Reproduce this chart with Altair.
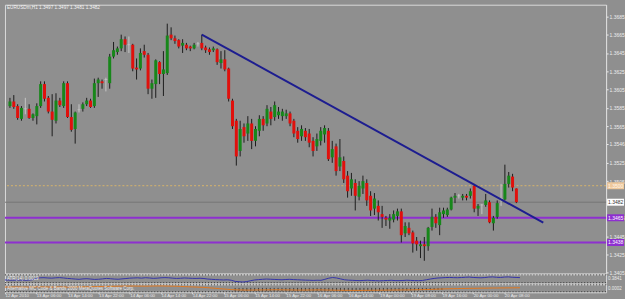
import altair as alt
import pandas as pd

TITLE = "EURUSDm,H1  1.3497  1.3497  1.3481  1.3482"

TIME_LABELS = ["12 Apr 2010", "13 Apr 06:00", "13 Apr 14:00", "13 Apr 22:00", "14 Apr 06:00",
               "14 Apr 14:00", "14 Apr 22:00", "15 Apr 06:00", "15 Apr 14:00", "15 Apr 22:00",
               "16 Apr 06:00", "16 Apr 14:00", "19 Apr 00:00", "19 Apr 08:00", "19 Apr 16:00",
               "20 Apr 00:00", "20 Apr 08:00"]
TIME_BARS = [0, 8, 16, 24, 32, 40, 48, 56, 64, 72, 80, 88, 96, 104, 112, 120, 128]

# 1.3485 sits under the white bid box and is left out of the scale labels
PRICE_TICKS = [1.3685, 1.3665, 1.3645, 1.3625, 1.3605, 1.3585, 1.3565, 1.3546, 1.3525,
               1.3505, 1.3465, 1.3445, 1.3425, 1.3405]

OPEN = [1.3587, 1.3592, 1.3587, 1.3573, 1.3584, 1.3584, 1.3574, 1.3576, 1.3587, 1.3611,
        1.3596, 1.3581, 1.3571, 1.3593, 1.3587, 1.3612, 1.3575, 1.3562, 1.3583, 1.3584,
        1.3589, 1.3593, 1.3587, 1.3612, 1.3614, 1.3616, 1.3612, 1.3641, 1.3646, 1.3650,
        1.3660, 1.3654, 1.3654, 1.3629, 1.3628, 1.3647, 1.3643, 1.3606, 1.3611, 1.3635,
        1.3622, 1.3623, 1.3665, 1.3661, 1.3659, 1.3653, 1.3654, 1.3652, 1.3650, 1.3655,
        1.3656, 1.3651, 1.3649, 1.3648, 1.3649, 1.3634, 1.3638, 1.3628, 1.3593, 1.3571,
        1.3538, 1.3564, 1.3557, 1.3568, 1.3549, 1.3560, 1.3573, 1.3568, 1.3581, 1.3575,
        1.3577, 1.3576, 1.3576, 1.3579, 1.3571, 1.3560, 1.3554, 1.3560, 1.3557, 1.3549,
        1.3543, 1.3549, 1.3556, 1.3560, 1.3531, 1.3543, 1.3521, 1.3527, 1.3511, 1.3497,
        1.3503, 1.3488, 1.3497, 1.3503, 1.3489, 1.3475, 1.3478, 1.3469, 1.3465, 1.3462,
        1.3463, 1.3467, 1.3472, 1.3448, 1.3454, 1.3449, 1.3440, 1.3434, 1.3436, 1.3434,
        1.3455, 1.3466, 1.3457, 1.3469, 1.3468, 1.3474, 1.3487, 1.3489, 1.3487, 1.3489,
        1.3489, 1.3500, 1.3475, 1.3479, 1.3479, 1.3482, 1.3459, 1.3466, 1.3486, 1.3485,
        1.3502, 1.3510, 1.3497]
HIGH = [1.3596, 1.3599, 1.3589, 1.3587, 1.3596, 1.3589, 1.3579, 1.3590, 1.3614, 1.3614,
        1.3598, 1.3600, 1.3601, 1.3596, 1.3614, 1.3614, 1.3589, 1.3581, 1.3589, 1.3591,
        1.3596, 1.3595, 1.3617, 1.3618, 1.3616, 1.3618, 1.3644, 1.3657, 1.3652, 1.3665,
        1.3663, 1.3663, 1.3655, 1.3639, 1.3650, 1.3654, 1.3645, 1.3616, 1.3638, 1.3636,
        1.3647, 1.3677, 1.3673, 1.3664, 1.3660, 1.3660, 1.3656, 1.3653, 1.3656, 1.3657,
        1.3665, 1.3653, 1.3651, 1.3652, 1.3650, 1.3647, 1.3648, 1.3629, 1.3595, 1.3573,
        1.3571, 1.3568, 1.3576, 1.3573, 1.3565, 1.3577, 1.3576, 1.3588, 1.3586, 1.3592,
        1.3586, 1.3584, 1.3583, 1.3581, 1.3573, 1.3564, 1.3566, 1.3563, 1.3562, 1.3553,
        1.3557, 1.3564, 1.3566, 1.3563, 1.3549, 1.3546, 1.3551, 1.3532, 1.3516, 1.3514,
        1.3507, 1.3505, 1.3511, 1.3507, 1.3494, 1.3492, 1.3484, 1.3478, 1.3467, 1.3469,
        1.3473, 1.3475, 1.3475, 1.3460, 1.3460, 1.3451, 1.3444, 1.3440, 1.3444, 1.3455,
        1.3475, 1.3469, 1.3476, 1.3476, 1.3476, 1.3488, 1.3492, 1.3491, 1.3491, 1.3491,
        1.3497, 1.3502, 1.3480, 1.3480, 1.3491, 1.3484, 1.3467, 1.3484, 1.3502, 1.3523,
        1.3515, 1.3513, 1.3497]
LOW = [1.3585, 1.3584, 1.3572, 1.3571, 1.3578, 1.3573, 1.3571, 1.3567, 1.3585, 1.3592,
       1.3579, 1.3554, 1.3568, 1.3586, 1.3585, 1.3574, 1.3559, 1.3546, 1.3580, 1.3581,
       1.3587, 1.3585, 1.3585, 1.3597, 1.3606, 1.3603, 1.3606, 1.3639, 1.3643, 1.3647,
       1.3646, 1.3645, 1.3625, 1.3616, 1.3626, 1.3640, 1.3600, 1.3595, 1.3596, 1.3611,
       1.3598, 1.3621, 1.3659, 1.3655, 1.3650, 1.3645, 1.3648, 1.3647, 1.3649, 1.3652,
       1.3648, 1.3645, 1.3643, 1.3646, 1.3632, 1.3628, 1.3625, 1.3592, 1.3562, 1.3522,
       1.3532, 1.3547, 1.3549, 1.3540, 1.3543, 1.3554, 1.3560, 1.3565, 1.3566, 1.3571,
       1.3573, 1.3571, 1.3573, 1.3565, 1.3553, 1.3547, 1.3549, 1.3549, 1.3542, 1.3532,
       1.3538, 1.3544, 1.3547, 1.3527, 1.3525, 1.3511, 1.3516, 1.3503, 1.3487, 1.3489,
       1.3473, 1.3484, 1.3491, 1.3478, 1.3467, 1.3468, 1.3462, 1.3454, 1.3456, 1.3453,
       1.3460, 1.3462, 1.3438, 1.3444, 1.3446, 1.3427, 1.3429, 1.3421, 1.3418, 1.3429,
       1.3451, 1.3454, 1.3446, 1.3465, 1.3466, 1.3473, 1.3481, 1.3486, 1.3484, 1.3484,
       1.3486, 1.3471, 1.3467, 1.3469, 1.3477, 1.3459, 1.3451, 1.3464, 1.3478, 1.3484,
       1.3498, 1.3494, 1.3481]
CLOSE = [1.3592, 1.3586, 1.3574, 1.3585, 1.3584, 1.3574, 1.3578, 1.3587, 1.3611, 1.3595,
         1.3581, 1.3572, 1.3593, 1.3588, 1.3612, 1.3575, 1.3561, 1.3580, 1.3583, 1.3589,
         1.3593, 1.3586, 1.3612, 1.3616, 1.3612, 1.3616, 1.3641, 1.3648, 1.3650, 1.3660,
         1.3654, 1.3654, 1.3628, 1.3627, 1.3645, 1.3643, 1.3606, 1.3612, 1.3637, 1.3622,
         1.3627, 1.3664, 1.3661, 1.3658, 1.3652, 1.3656, 1.3650, 1.3650, 1.3654, 1.3655,
         1.3650, 1.3648, 1.3646, 1.3650, 1.3635, 1.3638, 1.3627, 1.3595, 1.3565, 1.3532,
         1.3562, 1.3554, 1.3568, 1.3549, 1.3562, 1.3573, 1.3566, 1.3584, 1.3573, 1.3588,
         1.3581, 1.3581, 1.3579, 1.3568, 1.3557, 1.3551, 1.3562, 1.3553, 1.3547, 1.3538,
         1.3551, 1.3560, 1.3563, 1.3529, 1.3540, 1.3516, 1.3531, 1.3507, 1.3494, 1.3507,
         1.3489, 1.3500, 1.3505, 1.3484, 1.3473, 1.3486, 1.3471, 1.3466, 1.3463, 1.3465,
         1.3469, 1.3472, 1.3446, 1.3456, 1.3448, 1.3437, 1.3436, 1.3436, 1.3434, 1.3454,
         1.3466, 1.3459, 1.3471, 1.3473, 1.3474, 1.3487, 1.3489, 1.3489, 1.3489, 1.3487,
         1.3494, 1.3475, 1.3478, 1.3479, 1.3484, 1.3460, 1.3465, 1.3481, 1.3486, 1.3502,
         1.3511, 1.3498, 1.3482]

# upper indicator window (blue line), 0-100 scale of the window
OSC1 = [38, 36, 35, 37, 36, 34, 36, 40, 55, 62, 63, 60, 58, 62, 64, 60,
        55, 52, 48, 45, 50, 52, 48, 44, 46, 50, 55, 52, 48, 46, 50, 54,
        58, 60, 62, 58, 63, 60, 56, 58, 62,
        64, 62, 58, 55, 57, 60, 58, 56, 55, 57, 54,
        48, 45, 42, 40, 38, 40, 35, 22, 18, 15, 20,
        30, 38, 42, 45, 48, 46, 44, 42, 40, 43, 45, 42, 40, 38, 36, 35, 33, 35, 34,
        45, 58, 65, 60, 50,
        40, 36, 34, 32, 30, 33, 35, 32, 30, 28, 30, 32, 34, 31, 30, 32, 35, 33, 31, 30, 32,
        40, 48, 55, 60, 62, 65, 66, 64, 63, 65, 68, 70, 66, 64, 62, 65, 70, 72, 68, 66, 70,
        72, 68, 66, 64]
# lower indicator window (orange line), 0-100 scale of the window
OSC2 = [66, 66, 67, 67, 66, 65, 66, 67, 68, 68, 67, 67, 66, 66, 67, 67, 66, 66, 67, 68,
        68, 69, 70, 71, 72, 73,
        74, 75, 76, 77, 78, 78, 79, 79, 78, 78, 77, 78, 79, 80, 80, 79, 78, 77,
        76, 74, 72, 70, 68, 66, 64, 62, 58, 54, 50, 46, 42, 38,
        34, 32, 30, 29, 28, 28, 29, 30, 30, 31, 31, 32, 32, 31, 30, 30, 29, 28, 28, 28,
        29, 29, 30, 30, 29, 28, 27, 26, 26, 25, 25, 24, 24, 24, 25, 25, 26, 26, 27, 27,
        28, 28, 29, 29, 30, 30, 31, 32,
        33, 34, 35, 36, 38, 40, 42, 44, 45, 46, 47, 48, 49, 50, 50, 51, 52, 52, 53, 54,
        54, 55, 55, 56, 56, 57, 57]
# dark histogram in the lower window, bars 59..112
HIST_START = 59
HIST_ZERO = 55
HIST2 = [15, 14, 14, 13, 15, 16, 15, 14, 14, 15, 16, 17, 16, 15, 14, 14, 13, 14, 15, 16,
         15, 14, 15, 16, 17, 18, 17, 16, 15, 15, 16, 17, 18, 17, 16, 15, 16, 17, 18, 19,
         20, 19, 18, 19, 20, 21, 22, 23, 24, 25, 26, 28, 30, 32]
PANEL_DOTS = [8, 94]

TREND_BARS = [50.0, 139.0]
TREND_PRICES = [1.36651, 1.34597]

LEVEL_PRICES = [1.3500, 1.3482, 1.3465, 1.3438]
LEVEL_LABELS = ["1.3500", "1.3482", "1.3465", "1.3438"]

PANEL1_TEXT = "ATR(14) 0.0019"
PANEL1_RIGHT = "0.3841"
PANEL2_TEXT = "Alternative MC Code & Bands 2000 MetaQuotes Software Corp."
PANEL2_RIGHT = "0.0002"

# ---------------- styles ----------------
BG = "#8f8f8f"
FG = "#ececec"
GREEN = "#17871a"
RED = "#e0100c"
WICK = "#1c1c1c"
DOJI = "#c6c6c6"
FONT = "Liberation Sans"

W = 604
X_DOM = [0, 154.08]
Y_DOM = [1.340424, 1.369772]

xs = alt.Scale(domain=X_DOM, nice=False, zero=False)
ys = alt.Scale(domain=Y_DOM, nice=False, zero=False)

Y_AXIS = alt.Axis(orient="right", values=PRICE_TICKS, format=".4f", title=None, grid=False,
                  labelColor=FG, labelFontSize=5, labelFont=FONT, labelPadding=1,
                  tickSize=2, tickColor=FG, domainColor="#dcdcdc", labelBaseline="middle")

n = len(OPEN)
df = pd.DataFrame({"i": list(range(n)), "o": OPEN, "h": HIGH, "l": LOW, "c": CLOSE})
df["dir"] = ["up" if c > o else ("down" if c < o else "doji") for o, c in zip(OPEN, CLOSE)]

X = alt.X("i:Q", scale=xs, axis=None)

base = alt.Chart(df)
wicks = base.mark_rule(strokeWidth=1).encode(
    x=X,
    y=alt.Y("h:Q", scale=ys, axis=Y_AXIS),
    y2="l:Q",
    stroke=alt.Stroke("dir:N", scale=alt.Scale(domain=["up", "down", "doji"],
                                               range=[WICK, WICK, DOJI]), legend=None),
)
bodies = base.transform_filter("datum.dir != 'doji'").mark_bar(size=3).encode(
    x=X,
    y=alt.Y("o:Q", scale=ys, axis=Y_AXIS),
    y2="c:Q",
    fill=alt.Fill("dir:N", scale=alt.Scale(domain=["up", "down"], range=[GREEN, RED]), legend=None),
)
dojis = base.transform_filter("datum.dir == 'doji'").mark_tick(
    orient="horizontal", size=3, thickness=1, color=DOJI).encode(
    x=X, y=alt.Y("o:Q", scale=ys, axis=Y_AXIS))

lev = pd.DataFrame({"p": LEVEL_PRICES, "t": LEVEL_LABELS})
LINE_STYLES = [
    dict(color="#d9b46a", strokeWidth=1, strokeDash=[2, 2]),
    dict(color="#767676", strokeWidth=1),
    dict(color="#8e2fd0", strokeWidth=2),
    dict(color="#8e2fd0", strokeWidth=2),
]
BOX_FILL = ["#eec89c", "#ffffff", "#8e2fd0", "#8e2fd0"]
BOX_TEXT = ["#fff6ea", "#333333", "#ffffff", "#ffffff"]

level_layers = []
box_layers = []
for k in range(len(LEVEL_PRICES)):
    one = alt.Chart(lev.iloc[[k]])
    level_layers.append(one.mark_rule(**LINE_STYLES[k]).encode(
        y=alt.Y("p:Q", scale=ys, axis=Y_AXIS)))
    box_layers.append(one.mark_tick(orient="horizontal", size=17, thickness=7,
                                    color=BOX_FILL[k], opacity=1).encode(
        x=alt.value(W + 9.5), y=alt.Y("p:Q", scale=ys, axis=Y_AXIS)))
    box_layers.append(one.mark_text(align="left", baseline="middle", fontSize=5, font=FONT,
                                    color=BOX_TEXT[k]).encode(
        x=alt.value(W + 2), y=alt.Y("p:Q", scale=ys, axis=Y_AXIS), text="t:N"))

trend_df = pd.DataFrame({"i": TREND_BARS, "p": TREND_PRICES})
trend = alt.Chart(trend_df).mark_line(color="#1d1d90", strokeWidth=2).encode(
    x=X, y=alt.Y("p:Q", scale=ys, axis=Y_AXIS))

title = alt.Chart(pd.DataFrame({"t": [TITLE]})).mark_text(
    align="left", baseline="middle", fontSize=4.7, font=FONT, color="#f4f4f4").encode(
    x=alt.value(2), y=alt.value(3), text="t:N")

main = alt.layer(*level_layers, wicks, bodies, dojis, trend, *box_layers, title).properties(
    width=W, height=270)

# ------------- indicator window 1 -------------
ys1 = alt.Scale(domain=[0, 100], nice=False, zero=False)
osc1_df = pd.DataFrame({"i": list(range(len(OSC1))), "v": OSC1})
dots_df = pd.DataFrame({"v": PANEL_DOTS})
dots1 = alt.Chart(dots_df).mark_rule(color="#3a3a3a", strokeDash=[1, 2], strokeWidth=1).encode(
    y=alt.Y("v:Q", scale=ys1, axis=None))
line1 = alt.Chart(osc1_df).mark_line(color="#3434a8", strokeWidth=1).encode(
    x=X, y=alt.Y("v:Q", scale=ys1, axis=None))
txt1 = alt.Chart(pd.DataFrame({"t": [PANEL1_TEXT]})).mark_text(
    align="left", baseline="middle", fontSize=4.5, font=FONT, color="#f0f0f0").encode(
    x=alt.value(2), y=alt.value(5), text="t:N")
rt1 = alt.Chart(pd.DataFrame({"t": [PANEL1_RIGHT]})).mark_text(
    align="left", baseline="middle", fontSize=4.5, font=FONT, color=FG).encode(
    x=alt.value(W + 2), y=alt.value(5), text="t:N")
ind1 = alt.layer(dots1, line1, txt1, rt1).properties(width=W, height=9)

# ------------- indicator window 2 -------------
label_expr = "[" + ",".join("'" + t + "'" for t in TIME_LABELS) + "][round(datum.value / 8)]"
X_AXIS = alt.Axis(values=TIME_BARS, labelExpr=label_expr, title=None, grid=False, domain=False,
                  labelAlign="left", labelBaseline="top", labelColor=FG, labelFontSize=4.4,
                  labelFont=FONT, labelPadding=0, tickSize=1.5, tickColor="#d8d8d8",
                  labelOverlap=False, labelFlush=False, labelBound=False)
X2 = alt.X("i:Q", scale=xs, axis=X_AXIS)
ys2 = alt.Scale(domain=[0, 100], nice=False, zero=False)
hist_df = pd.DataFrame({"i": [HIST_START + k for k in range(len(HIST2))], "b": HIST2})
osc2_df = pd.DataFrame({"i": list(range(len(OSC2))), "v": OSC2})
dots2 = alt.Chart(dots_df).mark_rule(color="#3a3a3a", strokeDash=[1, 2], strokeWidth=1).encode(
    y=alt.Y("v:Q", scale=ys2, axis=None))
hist = alt.Chart(hist_df).mark_rule(color="#3c3c3c", strokeWidth=1).encode(
    x=X2, y=alt.Y("b:Q", scale=ys2, axis=None), y2=alt.datum(HIST_ZERO))
line2 = alt.Chart(osc2_df).mark_line(color="#e2781e", strokeWidth=1).encode(
    x=X2, y=alt.Y("v:Q", scale=ys2, axis=None))
txt2 = alt.Chart(pd.DataFrame({"t": [PANEL2_TEXT]})).mark_text(
    align="left", baseline="middle", fontSize=4.5, font=FONT, color="#f0f0f0").encode(
    x=alt.value(2), y=alt.value(4.5), text="t:N")
rt2 = alt.Chart(pd.DataFrame({"t": [PANEL2_RIGHT]})).mark_text(
    align="left", baseline="middle", fontSize=4.5, font=FONT, color=FG).encode(
    x=alt.value(W + 2), y=alt.value(5), text="t:N")
ind2 = alt.layer(dots2, hist, line2, txt2, rt2).properties(width=W, height=8)

chart = alt.vconcat(main, ind1, ind2, spacing=1, bounds="flush").resolve_scale(
    x="independent", y="independent").properties(
    padding={"left": 2, "top": 3, "right": 0, "bottom": 0}
).configure(background=BG, font=FONT).configure_view(stroke="#dadada", strokeWidth=1)

chart.save("out.html", embed_options={"renderer": "svg", "actions": False})
